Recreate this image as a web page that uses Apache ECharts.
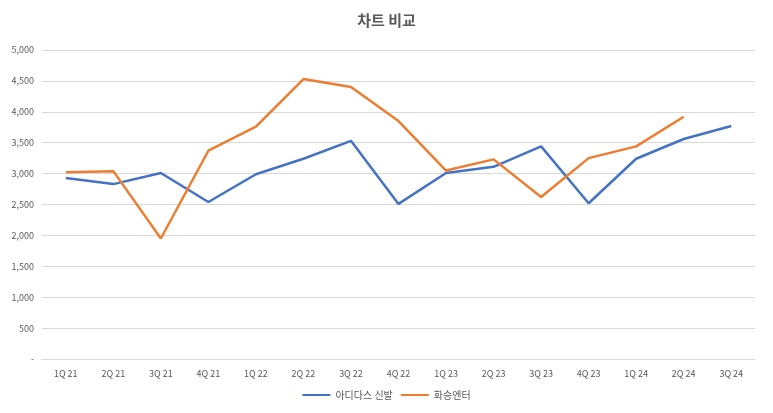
<!DOCTYPE html>
<html><head><meta charset="utf-8">
<script src="https://cdn.jsdelivr.net/npm/echarts@6/dist/echarts.min.js"></script>
<style>html,body{margin:0;padding:0;background:#fff}#c{width:773px;height:413px}</style>
</head><body><div id="c"></div>
<script>
const categories=['1Q 21','2Q 21','3Q 21','4Q 21','1Q 22','2Q 22','3Q 22','4Q 22','1Q 23','2Q 23','3Q 23','4Q 23','1Q 24','2Q 24','3Q 24'];
const adidas=[2930,2830,3010,2540,2990,3240,3530,2510,3010,3110,3440,2520,3240,3560,3770];
const hwaseung=[3020,3040,1950,3370,3760,4530,4400,3850,3050,3230,2620,3250,3440,3920,null];
const font='"Noto Sans CJK KR", "Noto Sans", sans-serif';
const chart=echarts.init(document.getElementById('c'));
chart.setOption({
  animation:false,
  title:{text:'차트 비교',left:'center',top:8,textStyle:{fontFamily:font,fontSize:15,fontWeight:'bold',color:'#595959'}},
  legend:{bottom:8,itemWidth:28,itemHeight:2,icon:'rect',textStyle:{fontFamily:font,fontSize:10,color:'#595959'},data:['아디다스 신발','화승엔터']},
  grid:{left:42,right:18,top:50,bottom:54},
  xAxis:{type:'category',data:categories,boundaryGap:true,axisTick:{show:false},axisLine:{lineStyle:{color:'#d9d9d9'}},axisLabel:{fontFamily:font,fontSize:9,color:'#595959',margin:10}},
  yAxis:{type:'value',min:0,max:5000,interval:500,axisLine:{show:false},axisTick:{show:false},splitLine:{lineStyle:{color:'#d9d9d9'}},
    axisLabel:{fontFamily:font,fontSize:9,color:'#595959',formatter:v=>v===0?'-':v.toLocaleString('en-US')}},
  series:[
    {name:'아디다스 신발',type:'line',data:adidas,symbol:'none',lineStyle:{width:2.5,color:'#4472c4'},itemStyle:{color:'#4472c4'}},
    {name:'화승엔터',type:'line',data:hwaseung,symbol:'none',lineStyle:{width:2.5,color:'#ed7d31'},itemStyle:{color:'#ed7d31'}}
  ]
});
</script></body></html>
